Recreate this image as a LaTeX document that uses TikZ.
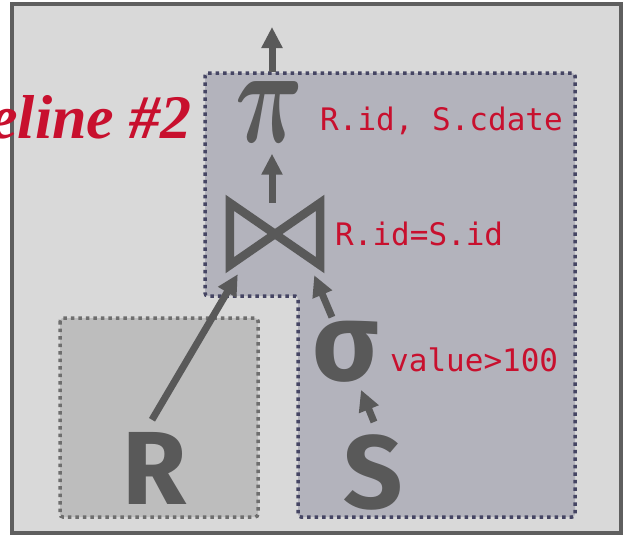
\documentclass[tikz,border=0pt]{standalone}
\usepackage{fontspec}
\setmainfont{Fira Sans}
\setmonofont{DejaVu Sans Mono}
\newfontfamily\titlefont{Liberation Serif}
\usepackage{bm}
\usepackage{graphicx}
\usepackage{xcolor}
\usetikzlibrary{arrows.meta,positioning,calc}
\definecolor{framefill}{HTML}{D9D9D9}
\definecolor{framegray}{HTML}{5F5F5F}
\definecolor{pipefill}{HTML}{B3B3BC}
\definecolor{pipeline}{HTML}{454563}
\definecolor{rfill}{HTML}{BDBDBD}
\definecolor{rline}{HTML}{6E6E6E}
\definecolor{opgray}{HTML}{595959}
\definecolor{condred}{HTML}{C8102E}

\begin{document}
\begin{tikzpicture}[
    x=1pt, y=-1pt,
    >={Triangle[length=21pt,width=20pt]},
    flow/.style={->, line width=7pt, draw=opgray},
    op/.style={text=opgray, inner sep=0pt, font=\fontsize{120}{120}\selectfont},
    rel/.style={text=opgray, inner sep=0pt, font=\bfseries\fontsize{104}{104}\selectfont},
    cond/.style={text=condred, inner sep=0pt, anchor=base west, font=\ttfamily\fontsize{31}{31}\selectfont},
    dotbox/.style={line width=3.5pt, dash pattern=on 3.5pt off 4pt, rounded corners=3pt}
]
\useasboundingbox (0,0) rectangle (625,536);
% outer frame
\draw[fill=framefill, draw=framegray, line width=4pt] (12,4) rectangle (621,533);
% pipeline region
\draw[dotbox, fill=pipefill, draw=pipeline] (205,73) -- (575,73) -- (575,517) -- (298,517) -- (298,296) -- (205,296) -- cycle;
\draw[dotbox, fill=rfill, draw=rline] (60,318) rectangle (258,517);

\node[anchor=base east, text=condred, inner sep=0pt, font=\titlefont\bfseries\itshape\fontsize{62}{62}\selectfont] (title) at (192,138) {Pipeline \#2};

% operators
\node[op] (proj) at (270,112) {\resizebox{68pt}{61pt}{$\bm{\pi}$}};
\node[cond] (projcond) at (320,130) {R.id, S.cdate};
\node[minimum width=90pt, minimum height=62pt, inner sep=0pt] (join) at (275,234) {};
\draw[line width=8.5pt, draw=opgray, line join=miter] (join.north west) -- (join.south east) -- (join.north east) -- (join.south west) -- cycle;
\node[cond] (joincond) at (335,245) {R.id=S.id};
\node[op, font=\bfseries\fontsize{110}{110}\selectfont] (sel) at (346,352) {σ};
\node[cond] (selcond) at (390,371) {value>100};
\node[rel] (R) at (155,468) {R};
\node[rel] (S) at (373,472) {S};

% connectors
\coordinate (out) at (272,27);
\draw[flow] ([yshift=9pt]proj.north -| out) -- (out);
\draw[flow] (join.north -| out) -- ([yshift=-11pt]proj.south -| out);
\draw[flow] ([xshift=-3pt,yshift=12pt]R.north) -- ([xshift=8pt,yshift=-9pt]join.south west);
\draw[flow] ([xshift=-14pt,yshift=4pt]sel.north) -- ([xshift=-6pt,yshift=-10pt]join.south east);
\draw[flow] ([xshift=1pt,yshift=12pt]S.north) -- ([xshift=15pt,yshift=-7pt]sel.south);
\end{tikzpicture}
\end{document}
